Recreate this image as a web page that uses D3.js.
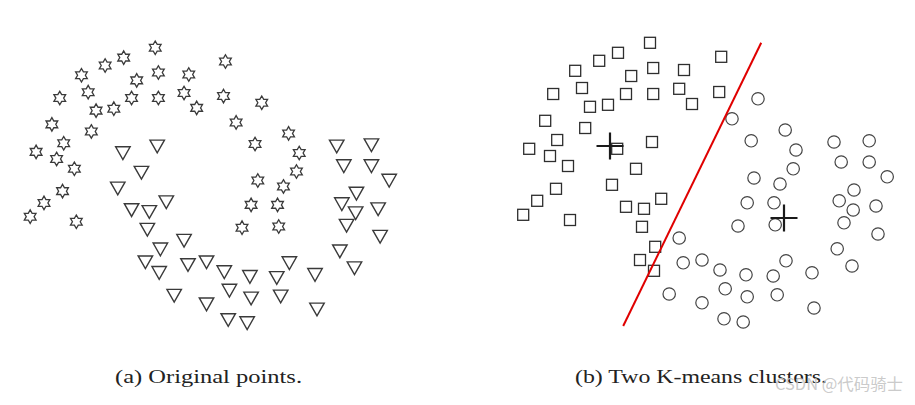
<!DOCTYPE html>
<html>
<head>
<meta charset="utf-8">
<script src="https://cdn.jsdelivr.net/npm/d3@7"></script>
<style>
  body { margin: 0; background: #fff; }
  svg { display: block; }
</style>
</head>
<body>
<svg id="chart" width="915" height="405"></svg>
<script>
// point coordinates (same points in both panels)
const pointX = [
  3.75, 2.95, 2.48, 1.88, 3.83, 4.60, 3.28, 2.05, 1.33, 3.15,
  3.83, 4.48, 4.80, 2.70, 2.25, 1.13, 2.13, 1.43, 0.73, 3.80,
  2.93, 1.25, 1.70, 3.40, 1.40, 2.80, 0.93, 0.58, 1.75, 3.15,
  3.60, 4.03, 3.55, 3.88, 3.50, 3.85, 5.53, 5.48,
  6.45, 5.80, 7.13, 6.28, 7.40, 8.35, 9.23, 8.53, 9.23, 9.68,
  7.33, 6.35, 7.00, 8.85, 8.48, 9.40, 8.83, 6.18, 6.85, 5.95,
  6.88, 8.60, 9.45, 8.43, 8.80, 4.48, 4.58, 5.05, 7.15, 5.50,
  6.15, 6.83, 7.80, 5.63, 6.18, 6.93, 5.05, 7.85, 4.23, 5.60, 6.08
]
const pointY = [
  7.43, 7.18, 6.98, 6.73, 6.80, 6.75, 6.60, 6.30, 6.15, 6.15,
  6.15, 6.28, 5.90, 5.88, 5.83, 5.48, 5.30, 5.00, 4.78, 4.95,
  4.78, 4.60, 4.35, 4.28, 3.78, 3.88, 3.48, 3.13, 3.00, 3.33,
  3.28, 3.53, 2.83, 2.33, 2.00, 1.73, 7.08, 6.20,
  6.03, 5.53, 5.25, 4.98, 4.75, 4.95, 4.98, 4.45, 4.45, 4.08,
  4.28, 4.05, 3.90, 3.75, 3.48, 3.35, 3.25, 3.43, 3.43, 2.85,
  2.88, 2.93, 2.65, 2.28, 1.85, 2.55, 1.93, 2.00, 1.98, 1.75,
  1.63, 1.60, 1.68, 1.28, 1.08, 1.13, 0.93, 0.80, 1.15, 0.53, 0.45
]
// original class: s = star (upper moon), t = triangle (lower moon)
const original = (
  'sssssssssssssssssss' + 'tt' + 'ss' + 't' + 's' + 't' + 'sss' + 'ttttttt' + 'ss' +
  'sssss' + 'ttttt' + 'sss' + 'tttt' + 'ssss' + 'tttttttttttttttttttt'
).split('')
// k-means assignment: a = square cluster, b = circle cluster
const kmeans = d3.range(pointX.length).map(i => i < 38 ? 'a' : 'b')

const centroidX = [2.75, 7.10]
const centroidY = [4.85, 3.05]
const boundaryX = [6.53, 3.08]
const boundaryY = [7.43, 0.35]

const captions = ['(a) Original points.', '(b) Two K-means clusters.']

const svg = d3.select('#chart')

// scales for each panel
const xLeft = d3.scaleLinear().domain([0, 10]).range([7.3, 401.8])
const yLeft = d3.scaleLinear().domain([0, 8]).range([339.6, 25.4])
const xRight = d3.scaleLinear().domain([0, 10]).range([500, 900])
const yRight = d3.scaleLinear().domain([0, 8]).range([340, 20])

// six pointed star outline
const hexagram = {
  draw(ctx, size) {
    const R = Math.sqrt(size) / 2
    const r = R / Math.sqrt(3)
    for (let k = 0; k < 12; k++) {
      const a = -Math.PI / 2 + k * Math.PI / 6
      const rr = k % 2 == 0 ? R : r
      const px = rr * Math.cos(a), py = rr * Math.sin(a)
      if (k == 0) ctx.moveTo(px, py); else ctx.lineTo(px, py)
    }
    ctx.closePath()
  }
}
const downTri = {
  draw(ctx, size) {
    const w = Math.sqrt(size)
    const h = w * 0.88
    ctx.moveTo(-w / 2, -h * 0.4)
    ctx.lineTo(w / 2, -h * 0.4)
    ctx.lineTo(0, h * 0.6)
    ctx.closePath()
  }
}

const idx = d3.range(pointX.length)

// (a) original points
svg.append('g')
  .selectAll('path')
  .data(idx)
  .enter()
  .append('path')
  .attr('transform', i => `translate(${xLeft(pointX[i])},${yLeft(pointY[i])})`)
  .attr('d', i => original[i] == 's'
    ? d3.symbol(hexagram, 13.5 * 13.5)()
    : d3.symbol(downTri, 14.5 * 14.5)())
  .attr('fill', '#fff')
  .attr('stroke', '#3a3a3a')
  .attr('stroke-width', i => original[i] == 's' ? 1.3 : 1.4)
  .attr('stroke-linejoin', 'miter')

// (b) k-means clusters
const gr = svg.append('g')
gr.selectAll('rect')
  .data(idx.filter(i => kmeans[i] == 'a'))
  .enter()
  .append('rect')
  .attr('x', i => xRight(pointX[i]) - 5.5)
  .attr('y', i => yRight(pointY[i]) - 5.5)
  .attr('width', 11)
  .attr('height', 11)
  .attr('fill', 'none')
  .attr('stroke', '#2e2e2e')
  .attr('stroke-width', 1.3)

gr.selectAll('circle')
  .data(idx.filter(i => kmeans[i] == 'b'))
  .enter()
  .append('circle')
  .attr('cx', i => xRight(pointX[i]))
  .attr('cy', i => yRight(pointY[i]))
  .attr('r', 6.2)
  .attr('fill', 'none')
  .attr('stroke', '#444')
  .attr('stroke-width', 1.2)

// separating line
gr.append('line')
  .attr('x1', xRight(boundaryX[0]))
  .attr('y1', yRight(boundaryY[0]))
  .attr('x2', xRight(boundaryX[1]))
  .attr('y2', yRight(boundaryY[1]))
  .attr('stroke', '#e00000')
  .attr('stroke-width', 2)

// centroids
centroidX.forEach((cx, k) => {
  const px = xRight(cx), py = yRight(centroidY[k])
  gr.append('path')
    .attr('d', `M${px - 13.5},${py}H${px + 13.5}M${px},${py - 13.5}V${py + 13.5}`)
    .attr('stroke', '#1a1a1a')
    .attr('stroke-width', 2.2)
})

// captions
svg.selectAll('text.cap')
  .data(captions)
  .enter()
  .append('text')
  .attr('class', 'cap')
  .attr('x', (d, i) => i == 0 ? 115 : 575)
  .attr('y', 383)
  .attr('textLength', (d, i) => i == 0 ? 187 : 252)
  .attr('lengthAdjust', 'spacingAndGlyphs')
  .style('font-family', '"Liberation Serif", "DejaVu Serif", serif')
  .style('font-size', '19px')
  .attr('fill', '#222')
  .text(d => d)

// watermark
svg.append('text')
  .attr('x', 775)
  .attr('y', 390)
  .attr('textLength', 128)
  .attr('lengthAdjust', 'spacingAndGlyphs')
  .style('font-family', '"Noto Sans CJK SC", "Noto Sans", sans-serif')
  .style('font-size', '16px')
  .attr('fill', '#c4c4c4')
  .attr('fill-opacity', 0.9)
  .text('CSDN @代码骑士')
</script>
</body>
</html>
